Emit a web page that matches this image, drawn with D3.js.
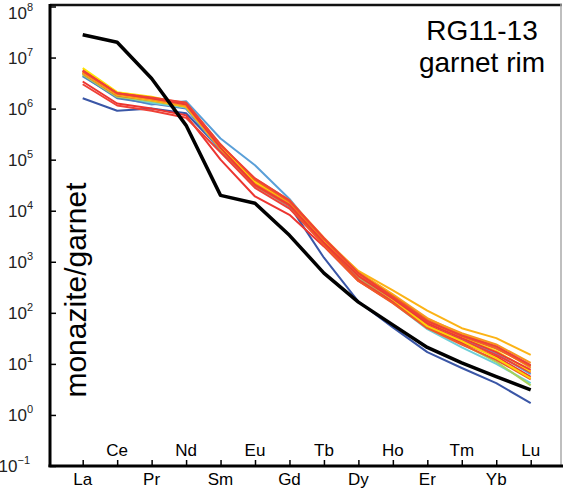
<!DOCTYPE html>
<html>
<head>
<meta charset="utf-8">
<script src="https://cdn.jsdelivr.net/npm/d3@7"></script>
<style>
  body { margin: 0; background: #fff; }
  text { font-family: "Liberation Sans", Arial, Helvetica, sans-serif; fill: #000; }
</style>
</head>
<body>
<div id="chart"></div>
<script>
const w = 563, h = 490

// REE order along the x axis
const elements = ['La','Ce','Pr','Nd','Sm','Eu','Gd','Tb','Dy','Ho','Er','Tm','Yb','Lu']
const yTicks = [-1, 0, 1, 2, 3, 4, 5, 6, 7, 8]   // exponents

// monazite/garnet ratios, one array per analysis
const yellow1  = [6.2e6, 2.1e6, 1.7e6, 1.2e6, 1.9e5, 3.8e4, 1.5e4, 2.6e3, 600, 220, 66, 33, 18, 7.1]
const gold     = [5.2e6, 1.9e6, 1.5e6, 1.1e6, 1.8e5, 3.5e4, 1.4e4, 2.8e3, 660, 275, 110, 50, 32, 15]
const orange1  = [5.0e6, 1.9e6, 1.5e6, 1.15e6, 1.9e5, 3.3e4, 1.4e4, 2.5e3, 560, 200, 76, 40, 24, 10.5]
const orangeRd = [5.4e6, 2.0e6, 1.6e6, 1.3e6, 2.0e5, 4.0e4, 1.5e4, 2.75e3, 600, 215, 71, 35, 20, 8.9]
const red1     = [5.6e6, 2.0e6, 1.6e6, 1.2e6, 1.7e5, 3.2e4, 1.3e4, 2.4e3, 525, 190, 63, 32, 17, 7.6]
const ltBlue   = [4.3e6, 1.7e6, 1.2e6, 1.4e6, 2.6e5, 7.8e4, 1.7e4, 2.6e3, 525, 178, 56, 30, 16, 6.3]
const red2     = [3.4e6, 1.26e6, 1.0e6, 7.4e5, 1.0e5, 1.9e4, 8.3e3, 2.0e3, 420, 160, 52, 26, 14, 5.6]
const red3     = [3.0e6, 1.15e6, 9.1e5, 6.6e5, 1.4e5, 2.8e4, 1.1e4, 2.2e3, 450, 166, 58, 29, 15, 6.8]
const dkBlue   = [1.6e6, 9.1e5, 1.0e6, 8.1e5, 1.6e5, 3.5e4, 1.26e4, 1.2e3, 166, 52, 17, 8.3, 4.2, 1.7]
const cyan     = [4.8e6, 1.8e6, 1.3e6, 1.05e6, 1.6e5, 3.0e4, 1.26e4, 2.2e3, 450, 158, 48, 21, 10, 4.2]
const ltGreen  = [4.6e6, 1.7e6, 1.4e6, 1.07e6, 1.7e5, 3.3e4, 1.3e4, 2.3e3, 500, 174, 52, 25, 11, 3.8]
const orange2  = [5.1e6, 1.95e6, 1.55e6, 1.17e6, 1.8e5, 4.2e4, 1.6e4, 2.95e3, 630, 230, 79, 38, 22, 8.3]
const red4     = [5.5e6, 2.0e6, 1.66e6, 1.3e6, 1.95e5, 4.3e4, 1.6e4, 2.9e3, 600, 200, 68, 36, 22, 9.5]
const mdBlue   = [4.4e6, 1.6e6, 1.26e6, 1.0e6, 1.5e5, 3.2e4, 1.2e4, 2.3e3, 500, 186, 63, 34, 21, 9.1]
const red5     = [4.9e6, 1.8e6, 1.45e6, 1.1e6, 1.6e5, 3.1e4, 1.26e4, 2.1e3, 420, 155, 50, 24, 12, 5.0]
const yellow2  = [5.0e6, 1.86e6, 1.45e6, 1.1e6, 1.66e5, 3.7e4, 1.45e4, 2.6e3, 550, 182, 55, 28, 13, 5.2]

// reference (black) curve
const blackLine = [2.8e7, 2.0e7, 3.9e6, 4.7e5, 2.0e4, 1.4e4, 3.3e3, 600, 162, 58, 21, 10.5, 5.6, 3.1]

const series = [
  {v: dkBlue,   c: '#3a56a6'},
  {v: ltBlue,   c: '#5a9fd8'},
  {v: mdBlue,   c: '#4f7fc1'},
  {v: cyan,     c: '#6fcfd8'},
  {v: ltGreen,  c: '#a8d25c'},
  {v: red2,     c: '#ec3530'},
  {v: red3,     c: '#ef4136'},
  {v: red5,     c: '#f05a28'},
  {v: yellow2,  c: '#fdd20a'},
  {v: gold,     c: '#fcb316'},
  {v: orange1,  c: '#f7941d'},
  {v: orange2,  c: '#f89c1c'},
  {v: yellow1,  c: '#ffe500'},
  {v: orangeRd, c: '#f26522'},
  {v: red1,     c: '#ee3b33'},
  {v: red4,     c: '#ef4136'}
]

var svg = d3.select('#chart').append('svg')
  .attr('width', w)
  .attr('height', h)

var xScale = d3.scalePoint()
  .domain(elements)
  .range([82.7, 530.7])

var yScale = d3.scaleLog()
  .domain([0.1, 1e8])
  .range([466, 6.5])

var line = d3.line()
  .x(function(d, i) { return xScale(elements[i]) })
  .y(function(d) { return yScale(d) })

// frame: top and right
svg.append('line')
  .attr('x1', 50).attr('x2', 562).attr('y1', 5).attr('y2', 5)
  .attr('stroke', '#111').attr('stroke-width', 2.5)
svg.append('line')
  .attr('x1', 561).attr('x2', 561).attr('y1', 4).attr('y2', 466)
  .attr('stroke', '#aaa').attr('stroke-width', 1.5)

// data lines
svg.append('g').selectAll('path')
  .data(series)
  .enter().append('path')
  .attr('d', function(s) { return line(s.v) })
  .attr('fill', 'none')
  .attr('stroke', function(s) { return s.c })
  .attr('stroke-width', 2)
  .attr('stroke-linejoin', 'round')

svg.append('path')
  .attr('d', line(blackLine))
  .attr('fill', 'none')
  .attr('stroke', '#000')
  .attr('stroke-width', 3.5)
  .attr('stroke-linejoin', 'round')

// x axis, ticks inward, labels alternating below / above
var xAxis = svg.append('g')
  .attr('transform', 'translate(0,466)')
  .call(d3.axisTop(xScale).tickSize(6).tickFormat(''))
xAxis.select('.domain').remove()
xAxis.selectAll('.tick line').attr('stroke', '#000').attr('stroke-width', 1.5)

svg.append('g').selectAll('text')
  .data(elements)
  .enter().append('text')
  .attr('x', function(d) { return xScale(d) })
  .attr('y', function(d, i) { return i % 2 === 0 ? 485 : 456 })
  .attr('text-anchor', 'middle')
  .style('font-size', '17px')
  .text(function(d) { return d })

// y axis
var yAxis = svg.append('g')
  .attr('transform', 'translate(50,0)')
  .call(d3.axisRight(yScale).tickValues(yTicks.map(function(e) { return Math.pow(10, e) })).tickSize(6).tickFormat(''))
yAxis.select('.domain').remove()
yAxis.selectAll('.tick line').attr('stroke', '#000').attr('stroke-width', 1.5)

var yLab = svg.append('g').selectAll('text')
  .data(yTicks)
  .enter().append('text')
  .attr('x', function(e) { return e < 0 ? 30 : 33 })
  .attr('y', function(e) { return Math.max(yScale(Math.pow(10, e)), 13) + 6 })
  .attr('text-anchor', 'end')
  .style('font-size', '17px')
  .style('fill', '#222')
yLab.append('tspan').text('10')
yLab.append('tspan')
  .attr('dy', -8)
  .style('font-size', '11px')
  .text(function(e) { return e < 0 ? '\u2212' + (-e) : e })

// axis lines on top
svg.append('line')
  .attr('x1', 50).attr('x2', 50).attr('y1', 4).attr('y2', 467)
  .attr('stroke', '#000').attr('stroke-width', 3)
svg.append('line')
  .attr('x1', 48.5).attr('x2', 563).attr('y1', 466).attr('y2', 466)
  .attr('stroke', '#000').attr('stroke-width', 3)

// y label
svg.append('text')
  .attr('transform', 'translate(86,290) rotate(-90)')
  .attr('text-anchor', 'middle')
  .style('font-size', '30px')
  .text('monazite/garnet')

// sample title
svg.append('text')
  .attr('x', 482).attr('y', 40)
  .attr('text-anchor', 'middle')
  .style('font-size', '28px')
  .text('RG11-13')
svg.append('text')
  .attr('x', 482).attr('y', 72)
  .attr('text-anchor', 'middle')
  .style('font-size', '28px')
  .text('garnet rim')
</script>
</body>
</html>
